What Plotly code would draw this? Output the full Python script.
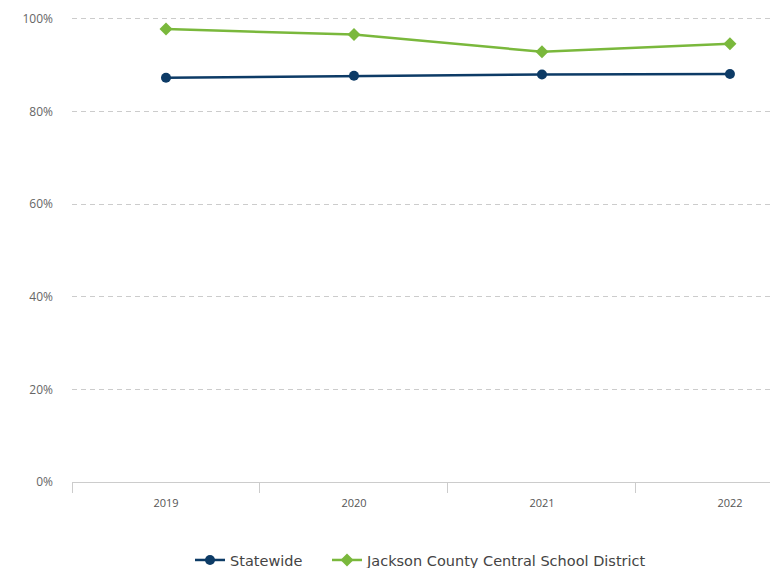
import plotly.graph_objects as go

years = ["2019", "2020", "2021", "2022"]
statewide = [87.3, 87.7, 88.0, 88.1]
jackson = [97.8, 96.6, 92.9, 94.6]
y_ticks = [0, 20, 40, 60, 80, 100]
y_tick_labels = ["0%", "20%", "40%", "60%", "80%", "100%"]

fig = go.Figure()
fig.add_trace(go.Scatter(
    x=years, y=statewide, name="Statewide", mode="lines+markers",
    line=dict(color="#0d3b66", width=2.5),
    marker=dict(symbol="circle", size=10, color="#0d3b66"),
    legendwidth=92,
))
fig.add_trace(go.Scatter(
    x=years, y=jackson, name="Jackson County Central School District", mode="lines+markers",
    line=dict(color="#7ab83c", width=2.5),
    marker=dict(symbol="diamond", size=10, color="#7ab83c"),
))

fig.update_layout(
    width=770, height=568,
    margin=dict(l=72, r=0, t=17, b=86, autoexpand=False),
    paper_bgcolor="white", plot_bgcolor="white",
    font=dict(family="Open Sans, sans-serif", color="#555555"),
    showlegend=True,
    legend=dict(orientation="h", x=0.5, xanchor="center",
                yref="container", y=0.014, yanchor="middle",
                font=dict(size=14.5, color="#444444", family="DejaVu Sans, sans-serif"),
                itemwidth=30),
    hovermode=False,
    xaxis=dict(
        type="category", range=[-0.5, 3.213], showgrid=False,
        showline=True, linecolor="#cccccc", linewidth=1,
        ticks="outside", tickson="boundaries", ticklen=10, tickcolor="#cccccc",
        tickfont=dict(size=11, color="#555555"), ticklabelstandoff=11,
    ),
    yaxis=dict(
        range=[0, 100.4], tickvals=y_ticks, ticktext=y_tick_labels,
        showgrid=True, gridcolor="#cccccc", griddash="5px,4px", gridwidth=1,
        zeroline=False, showline=False, ticks="",
        tickfont=dict(size=12, color="#666666"), ticklabelstandoff=18,
    ),
)

fig.write_html("out.html")
